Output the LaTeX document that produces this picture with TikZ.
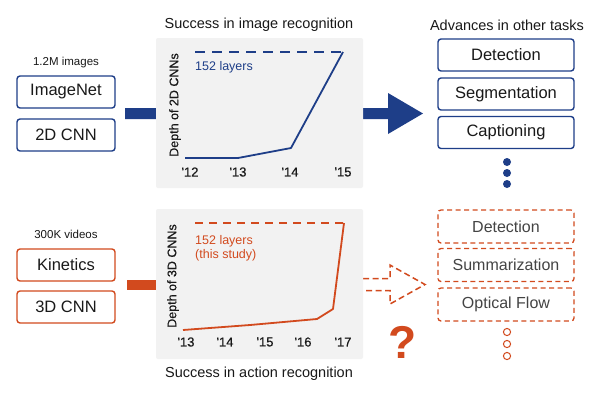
\documentclass[tikz,border=0pt]{standalone}
\usepackage{fontspec}
\setmainfont{Liberation Sans}
\newfontfamily\medfont{Liberation Sans}[FakeBold=0.6]
\definecolor{nblue}{RGB}{30,62,136}
\definecolor{norange}{RGB}{210,74,30}
\definecolor{panelgray}{RGB}{242,242,242}
\definecolor{txtgray}{RGB}{68,68,68}
\begin{document}
\begin{tikzpicture}[x=1pt,y=-1pt,
  bluebox/.style={draw=nblue,line width=1.4pt,rounded corners=3pt,minimum width=98pt,minimum height=32pt,inner sep=0pt,font=\fontsize{16.5}{18}\selectfont,text=black!90},
  orbox/.style={draw=norange,line width=1.4pt,rounded corners=3pt,minimum width=98pt,minimum height=32pt,inner sep=0pt,font=\fontsize{16.5}{18}\selectfont,text=black!90},
  taskbox/.style={draw=nblue,line width=1.4pt,rounded corners=3pt,minimum width=136pt,minimum height=32pt,inner sep=0pt,font=\fontsize{16.5}{18}\selectfont,text=black!90},
  dtaskbox/.style={draw=norange,line width=1.3pt,dash pattern=on 5pt off 3.5pt,rounded corners=3pt,minimum width=136pt,minimum height=33pt,inner sep=0pt,font=\fontsize{16}{18}\selectfont,text=txtgray},
  panel/.style={fill=panelgray,rounded corners=2pt},
  title/.style={font=\fontsize{14.5}{16}\selectfont,text=black!90},
  small/.style={font=\fontsize{11.5}{13}\selectfont,text=black!90},
  tick/.style={font=\medfont\fontsize{13}{15}\selectfont,text=black!90},
  ylab/.style={font=\medfont\fontsize{12.5}{14}\selectfont,text=black!90,rotate=90},
  bluelbl/.style={font=\fontsize{12.5}{15}\selectfont,text=nblue,anchor=west,inner sep=0pt},
  orlbl/.style={font=\fontsize{12.5}{15}\selectfont,text=norange,anchor=west,inner sep=0pt,align=left},
]
\useasboundingbox (0,0) rectangle (600,400);
\fill[white] (0,0) rectangle (600,400);

% ---------- top row ----------
\node[small] (imgcount) at (66,63) {1.2M images};
\node[bluebox] (imagenet) at (66,92) {ImageNet};
\node[bluebox] (cnn2d) at (66,135) {2D CNN};

% big blue arrow (behind panel)
\coordinate (ta) at (125,113.5);
\fill[nblue] (ta) ++(0,-5.5) -- (388,108) -- (388,93) -- (423,113.5) -- (388,134) -- (388,119) -- (125,119) -- cycle;

\fill[panel] (156,38) rectangle (363,188);
\node[title] (t1) at (259,25) {Success in image recognition};
\node[ylab] (y1) at (175,105) {Depth of 2D CNNs};
\node[tick] (a12) at (190,172) {'12};
\node[tick] (a13) at (238,172) {'13};
\node[tick] (a14) at (290,172) {'14};
\node[tick] (a15) at (343,172) {'15};
\draw[nblue,line width=1.5pt,dash pattern=on 10pt off 7pt] (195,52) -- (343,52);
\node[bluelbl] (l1) at (195,67) {152 layers};
\draw[nblue,line width=1.8pt,line join=round] (185,158) -- (238,158) -- (291,148) -- (343,52);

\node[title] (t2) at (507,25) {Advances in other tasks};
\node[taskbox] (det1) at (506,55) {Detection};
\node[taskbox] (seg) at (506,94) {Segmentation};
\node[taskbox] (cap) at (506,132.5) {Captioning};
\foreach \yy in {162,173,184} \fill[nblue] (507,\yy) circle (4);

% ---------- bottom row ----------
\node[small] (vidcount) at (66,234) {300K videos};
\node[orbox] (kinetics) at (66,265) {Kinetics};
\node[orbox] (cnn3d) at (66,307) {3D CNN};

\fill[norange] (127,280) rectangle (160,290);
\draw[norange,line width=1.5pt,dash pattern=on 6pt off 3.5pt] (363,278.5) -- (390,278.5) -- (390,265) -- (425,284.5) -- (390,304) -- (390,290.5) -- (363,290.5);

\fill[panel] (156,209) rectangle (363,359);
\node[title] (t3) at (259,374) {Success in action recognition};
\node[ylab] (y2) at (173,276) {Depth of 3D CNNs};
\node[tick] (b13) at (186,342) {'13};
\node[tick] (b14) at (225,342) {'14};
\node[tick] (b15) at (265,342) {'15};
\node[tick] (b16) at (303,342) {'16};
\node[tick] (b17) at (343,342) {'17};
\draw[norange,line width=1.5pt,dash pattern=on 8pt off 6pt] (195,223) -- (344,223);
\node[orlbl] (l2) at (195,248) {152 layers\\[-1pt](this study)};
\draw[norange,line width=1.8pt,line join=round] (183,330) -- (250,325) -- (317,319) -- (333,309) -- (344,223);

\node[dtaskbox] (det2) at (506,226.5) {Detection};
\node[dtaskbox] (summ) at (506,265) {Summarization};
\node[dtaskbox] (flow) at (506,304.5) {Optical Flow};
\foreach \yy in {332,344,356} \draw[norange,line width=1pt] (507,\yy) circle (3.6);

\node[font=\bfseries\fontsize{46}{48}\selectfont,text=norange] (q) at (403,342) {?};
\end{tikzpicture}
\end{document}
